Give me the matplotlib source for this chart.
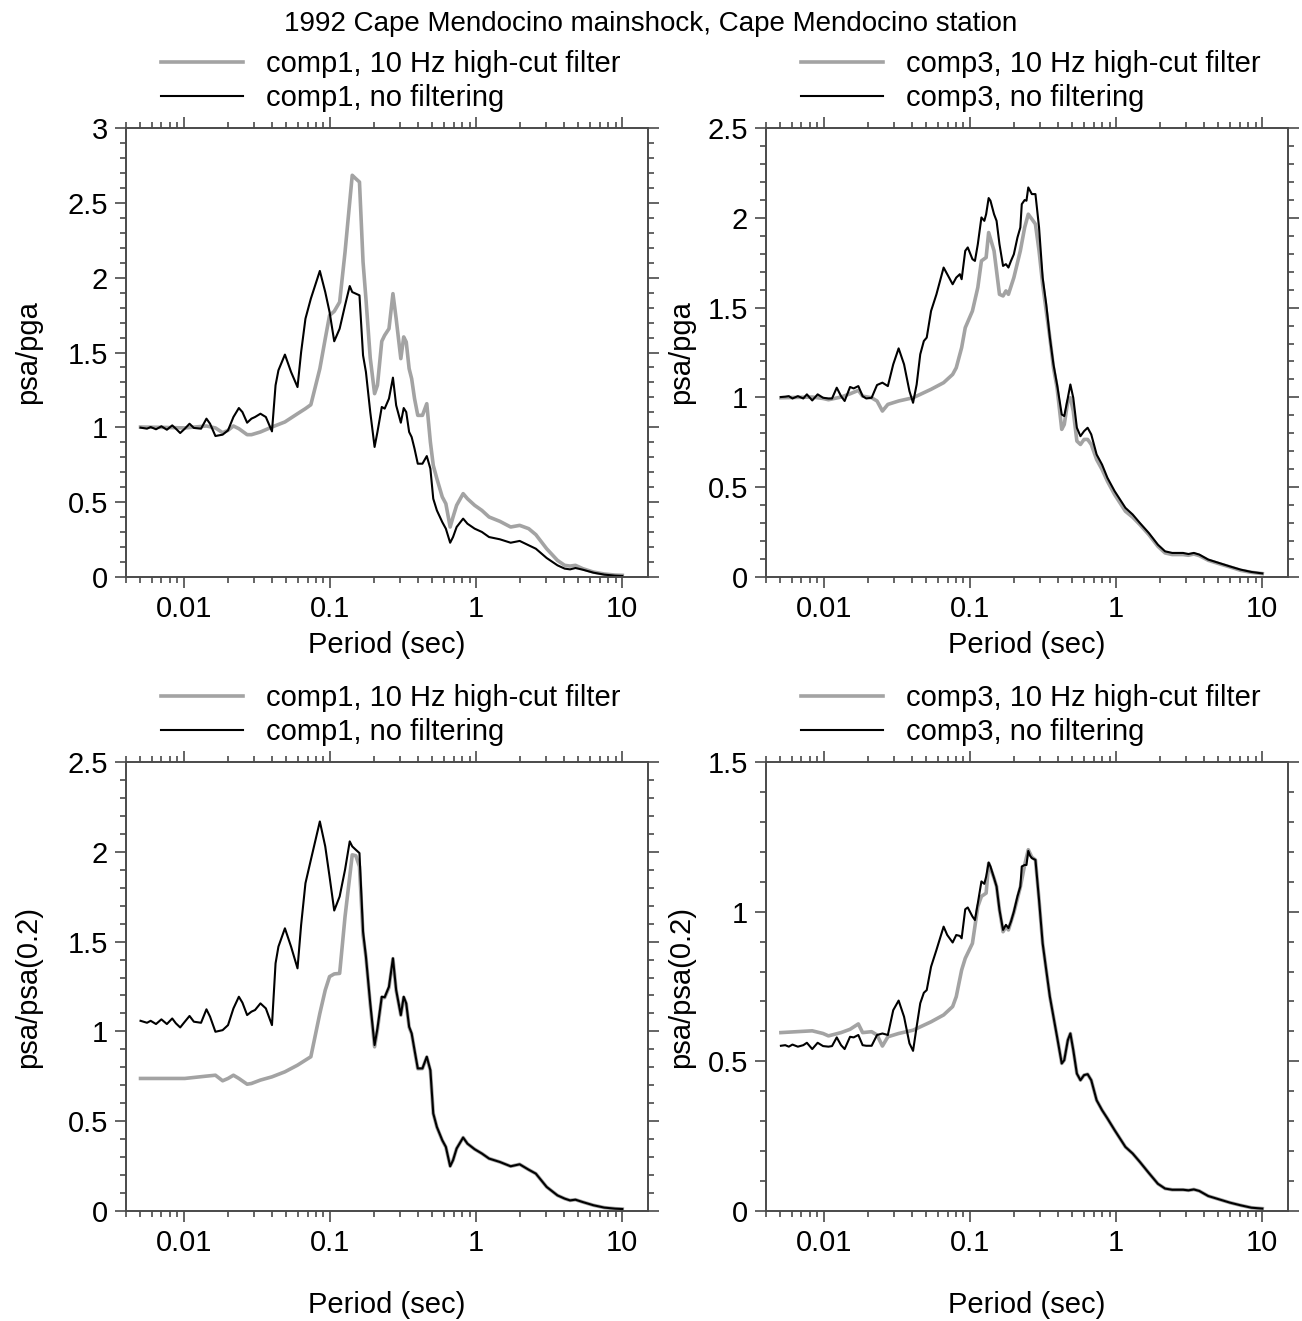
import matplotlib
matplotlib.use("Agg")
import matplotlib.pyplot as plt
from matplotlib.ticker import FixedLocator, FixedFormatter, LogLocator, MultipleLocator, NullFormatter
from matplotlib.lines import Line2D

plt.rcParams['font.family'] = ['Liberation Sans', 'DejaVu Sans']

TITLE = "1992 Cape Mendocino mainshock, Cape Mendocino station"

# comp1, no filtering
period1_nf = [0.00503, 0.00557, 0.00590, 0.00642, 0.00699, 0.00762, 0.00829, 0.00878, 0.00940, 0.01011,
              0.01089, 0.01166, 0.01306, 0.01422, 0.01505, 0.01638, 0.01835, 0.01998, 0.02176, 0.02370,
              0.02507, 0.02700, 0.02891, 0.03059, 0.03331, 0.03627, 0.03995, 0.04227, 0.04423, 0.04899,
              0.05397, 0.05976, 0.06326, 0.06772, 0.07374, 0.08497, 0.09252, 0.09903, 0.1066, 0.1161,
              0.1264, 0.1361, 0.1416, 0.1499, 0.1587, 0.1679, 0.1757, 0.1881, 0.2014, 0.2107,
              0.2256, 0.2361, 0.2527, 0.2690, 0.2830, 0.3046, 0.3188, 0.3317, 0.3472, 0.3613,
              0.3781, 0.3979, 0.4283, 0.4586, 0.4853, 0.5079, 0.5377, 0.5854, 0.6194, 0.6630,
              0.6938, 0.7342, 0.8135, 0.8708, 0.9754, 1.093, 1.224, 1.451, 1.721, 1.983,
              2.286, 2.560, 3.035, 3.599, 4.031, 4.389, 4.779, 5.353, 6.346, 7.523,
              8.920, 10.0]
pga1_nf = [0.998, 0.991, 1.002, 0.987, 1.007, 0.984, 1.013, 0.991, 0.962, 0.991,
           1.024, 0.996, 0.991, 1.058, 1.024, 0.942, 0.951, 0.980, 1.069, 1.129,
           1.102, 1.031, 1.058, 1.069, 1.091, 1.069, 0.973, 1.281, 1.381, 1.486,
           1.370, 1.269, 1.503, 1.726, 1.860, 2.045, 1.904, 1.771, 1.575, 1.659,
           1.815, 1.944, 1.904, 1.893, 1.882, 1.481, 1.370, 1.102, 0.869, 0.969,
           1.136, 1.125, 1.192, 1.332, 1.147, 1.031, 1.129, 1.102, 0.969, 0.935,
           0.857, 0.757, 0.757, 0.808, 0.724, 0.523, 0.445, 0.367, 0.323, 0.229,
           0.267, 0.334, 0.390, 0.356, 0.323, 0.301, 0.267, 0.252, 0.229, 0.241,
           0.212, 0.189, 0.127, 0.078, 0.056, 0.051, 0.060, 0.049, 0.029, 0.016,
           0.009, 0.007]
p02_1_nf = [1.059, 1.048, 1.059, 1.041, 1.067, 1.041, 1.072, 1.045, 1.022, 1.054,
            1.086, 1.054, 1.048, 1.123, 1.082, 0.998, 1.007, 1.035, 1.128, 1.193,
            1.160, 1.091, 1.110, 1.119, 1.156, 1.128, 1.035, 1.379, 1.472, 1.574,
            1.472, 1.351, 1.593, 1.825, 1.955, 2.169, 2.030, 1.862, 1.673, 1.751,
            1.900, 2.058, 2.030, 2.011, 1.993, 1.556, 1.416, 1.156, 0.924, 1.017,
            1.193, 1.190, 1.249, 1.407, 1.230, 1.091, 1.193, 1.156, 1.026, 0.989,
            0.896, 0.794, 0.794, 0.859, 0.784, 0.543, 0.468, 0.394, 0.357, 0.249,
            0.283, 0.348, 0.409, 0.375, 0.344, 0.320, 0.292, 0.273, 0.249, 0.260,
            0.230, 0.208, 0.134, 0.087, 0.069, 0.059, 0.063, 0.050, 0.032, 0.019,
            0.013, 0.011]

# comp1, 10 Hz high-cut filter
period1_hc = [0.00503, 0.00699, 0.01011, 0.01422, 0.01638, 0.01835, 0.01998, 0.02176, 0.02370, 0.02700,
              0.02891, 0.03331, 0.03995, 0.04899, 0.05976, 0.06772, 0.07374, 0.08497, 0.09252, 0.09903,
              0.1066, 0.1161, 0.1264, 0.1361, 0.1416, 0.1499, 0.1587, 0.1679, 0.1757, 0.1881,
              0.2014, 0.2107, 0.2256, 0.2361, 0.2527, 0.2690, 0.2830, 0.3046, 0.3188, 0.3317,
              0.3472, 0.3613, 0.3781, 0.3979, 0.4283, 0.4586, 0.4853, 0.5079, 0.5377, 0.5854,
              0.6194, 0.6630, 0.6938, 0.7342, 0.8135, 0.8708, 0.9754, 1.093, 1.224, 1.451,
              1.721, 1.983, 2.286, 2.560, 3.035, 3.599, 4.031, 4.389, 4.779, 5.353,
              6.346, 7.523, 8.920, 10.0]
pga1_hc = [1.002, 1.000, 0.996, 1.009, 0.996, 0.964, 0.980, 1.009, 0.991, 0.951,
           0.951, 0.969, 1.002, 1.036, 1.091, 1.125, 1.151, 1.392, 1.592, 1.748,
           1.775, 1.837, 2.171, 2.506, 2.684, 2.661, 2.639, 2.105, 1.860, 1.463,
           1.225, 1.281, 1.575, 1.615, 1.659, 1.893, 1.726, 1.459, 1.604, 1.570,
           1.392, 1.325, 1.192, 1.080, 1.080, 1.158, 0.902, 0.746, 0.657, 0.535,
           0.490, 0.334, 0.401, 0.479, 0.557, 0.523, 0.479, 0.445, 0.401, 0.372,
           0.334, 0.345, 0.323, 0.283, 0.189, 0.111, 0.078, 0.073, 0.078, 0.056,
           0.033, 0.020, 0.013, 0.011]
p02_1_hc = [0.738, 0.738, 0.738, 0.751, 0.756, 0.725, 0.738, 0.756, 0.738, 0.706,
            0.710, 0.729, 0.747, 0.775, 0.812, 0.840, 0.859, 1.100, 1.230, 1.305,
            1.320, 1.323, 1.639, 1.862, 1.983, 1.978, 1.918, 1.537, 1.416, 1.150,
            0.914, 1.010, 1.190, 1.188, 1.245, 1.405, 1.228, 1.090, 1.190, 1.155,
            1.024, 0.987, 0.894, 0.792, 0.793, 0.857, 0.782, 0.543, 0.467, 0.393,
            0.356, 0.250, 0.283, 0.348, 0.409, 0.375, 0.344, 0.320, 0.292, 0.273,
            0.249, 0.260, 0.230, 0.208, 0.134, 0.087, 0.069, 0.059, 0.063, 0.050,
            0.032, 0.019, 0.013, 0.011]

# comp3, no filtering
period3_nf = [0.00506, 0.00542, 0.00573, 0.00607, 0.00661, 0.00720, 0.00762, 0.00829, 0.00903, 0.00983,
              0.01071, 0.01133, 0.01220, 0.01306, 0.01382, 0.01505, 0.01593, 0.01715, 0.01835, 0.01943,
              0.02115, 0.02303, 0.02507, 0.02731, 0.02973, 0.03237, 0.03526, 0.03839, 0.04064, 0.04301,
              0.04552, 0.04817, 0.05041, 0.05397, 0.05875, 0.06580, 0.06966, 0.07585, 0.08028, 0.08497,
              0.08741, 0.09252, 0.09627, 0.1036, 0.1078, 0.1128, 0.1194, 0.1250, 0.1286, 0.1338,
              0.1377, 0.1457, 0.1516, 0.1587, 0.1679, 0.1757, 0.1828, 0.1903, 0.1991, 0.2107,
              0.2205, 0.2256, 0.2361, 0.2429, 0.2499, 0.2570, 0.2644, 0.2798, 0.2962, 0.3135,
              0.3317, 0.3512, 0.3717, 0.3934, 0.4236, 0.4407, 0.4664, 0.4853, 0.5079, 0.5377,
              0.5689, 0.6022, 0.6372, 0.6745, 0.7342, 0.7996, 0.8707, 0.9752, 1.156, 1.296,
              1.451, 1.672, 1.928, 2.159, 2.418, 2.868, 3.122, 3.400, 3.702, 4.266,
              5.058, 5.997, 7.110, 8.432, 10.0]
pga3_nf = [1.002, 1.004, 1.007, 0.994, 1.007, 0.994, 1.017, 0.983, 1.017, 0.998,
           0.994, 0.994, 1.054, 1.007, 0.980, 1.058, 1.050, 1.063, 1.007, 0.994,
           0.998, 1.069, 1.082, 1.063, 1.184, 1.273, 1.184, 1.035, 0.970, 1.072,
           1.240, 1.314, 1.333, 1.481, 1.574, 1.723, 1.686, 1.630, 1.667, 1.686,
           1.658, 1.816, 1.835, 1.770, 1.760, 1.853, 2.002, 1.983, 2.020, 2.110,
           2.095, 2.020, 1.983, 1.853, 1.732, 1.742, 1.723, 1.760, 1.797, 1.890,
           1.946, 2.076, 2.099, 2.095, 2.169, 2.151, 2.132, 2.132, 1.946, 1.667,
           1.519, 1.333, 1.184, 1.072, 0.905, 0.896, 0.998, 1.072, 0.998, 0.831,
           0.784, 0.812, 0.831, 0.794, 0.682, 0.626, 0.552, 0.478, 0.385, 0.348,
           0.301, 0.245, 0.180, 0.143, 0.134, 0.134, 0.128, 0.134, 0.125, 0.097,
           0.078, 0.059, 0.041, 0.028, 0.020]
p02_3_nf = [0.552, 0.554, 0.549, 0.556, 0.549, 0.554, 0.562, 0.541, 0.562, 0.551,
            0.549, 0.551, 0.580, 0.554, 0.541, 0.582, 0.580, 0.588, 0.554, 0.552,
            0.552, 0.588, 0.593, 0.588, 0.671, 0.703, 0.649, 0.560, 0.535, 0.616,
            0.694, 0.729, 0.738, 0.816, 0.872, 0.950, 0.922, 0.897, 0.922, 0.919,
            0.911, 1.008, 1.014, 0.984, 0.972, 1.028, 1.101, 1.093, 1.117, 1.164,
            1.151, 1.112, 1.084, 1.006, 0.939, 0.956, 0.945, 0.967, 1.000, 1.051,
            1.084, 1.151, 1.156, 1.156, 1.203, 1.187, 1.179, 1.173, 1.039, 0.894,
            0.805, 0.716, 0.649, 0.582, 0.493, 0.504, 0.571, 0.593, 0.538, 0.459,
            0.437, 0.454, 0.457, 0.437, 0.370, 0.337, 0.309, 0.270, 0.214, 0.192,
            0.164, 0.127, 0.091, 0.075, 0.071, 0.071, 0.069, 0.072, 0.067, 0.050,
            0.039, 0.028, 0.019, 0.011, 0.008]

# comp3, 10 Hz high-cut filter
period3_hc = [0.00506, 0.00829, 0.00983, 0.01071, 0.01306, 0.01505, 0.01715, 0.01835, 0.02115, 0.02303,
              0.02507, 0.02731, 0.03237, 0.04064, 0.05397, 0.06580, 0.07585, 0.08028, 0.08741, 0.09252,
              0.1036, 0.1128, 0.1194, 0.1286, 0.1338, 0.1457, 0.1516, 0.1587, 0.1679, 0.1757,
              0.1828, 0.1991, 0.2205, 0.2361, 0.2499, 0.2644, 0.2798, 0.2962, 0.3135, 0.3317,
              0.3512, 0.3717, 0.3934, 0.4236, 0.4407, 0.4664, 0.4853, 0.5079, 0.5377, 0.5689,
              0.6022, 0.6372, 0.6745, 0.7342, 0.7996, 0.8707, 0.9752, 1.156, 1.296, 1.451,
              1.672, 1.928, 2.159, 2.418, 2.868, 3.122, 3.400, 3.702, 4.266, 5.058,
              5.997, 7.110, 8.432, 10.0]
pga3_hc = [0.998, 1.002, 0.994, 0.987, 1.002, 1.020, 1.039, 1.007, 0.998, 0.980,
           0.924, 0.961, 0.980, 0.998, 1.045, 1.082, 1.128, 1.165, 1.277, 1.388,
           1.481, 1.612, 1.760, 1.779, 1.918, 1.816, 1.704, 1.574, 1.565, 1.593,
           1.574, 1.667, 1.816, 1.946, 2.020, 1.993, 1.965, 1.816, 1.630, 1.481,
           1.333, 1.165, 1.054, 0.822, 0.849, 0.980, 0.998, 0.924, 0.757, 0.738,
           0.766, 0.766, 0.738, 0.654, 0.599, 0.533, 0.459, 0.366, 0.333, 0.292,
           0.236, 0.171, 0.134, 0.125, 0.125, 0.121, 0.128, 0.119, 0.093, 0.074,
           0.056, 0.037, 0.026, 0.019]
p02_3_hc = [0.596, 0.602, 0.593, 0.585, 0.596, 0.607, 0.625, 0.596, 0.599, 0.588,
            0.551, 0.582, 0.593, 0.604, 0.632, 0.655, 0.683, 0.716, 0.805, 0.844,
            0.894, 1.017, 1.051, 1.062, 1.162, 1.112, 1.084, 1.006, 0.933, 0.950,
            0.939, 0.997, 1.082, 1.156, 1.207, 1.182, 1.173, 1.039, 0.894, 0.805,
            0.716, 0.649, 0.582, 0.493, 0.504, 0.571, 0.593, 0.538, 0.459, 0.437,
            0.454, 0.457, 0.437, 0.370, 0.337, 0.309, 0.270, 0.214, 0.192, 0.164,
            0.127, 0.091, 0.075, 0.071, 0.071, 0.069, 0.072, 0.067, 0.050, 0.039,
            0.028, 0.019, 0.011, 0.008]

x_ticks = [0.01, 0.1, 1, 10]
x_ticklabels = ["0.01", "0.1", "1", "10"]

GREY = "#a3a3a3"
SPINE = "#4a4a4a"
FS = 21

fig = plt.figure(figsize=(13.02, 13.21), dpi=100)
fig.text(0.5, 1 - 24 / 1321, TITLE, ha='center', va='center', fontsize=20)

W, H = 1302, 1321
panels = [
    # left px, top px, comp, ylabel, ymax, hc data, nf data, xlabel y, ylabel x
    (126, 128, "comp1", "psa/pga", 3.0, (period1_hc, pga1_hc), (period1_nf, pga1_nf), -0.12, -0.161),
    (766, 128, "comp3", "psa/pga", 2.5, (period3_hc, pga3_hc), (period3_nf, pga3_nf), -0.12, -0.136),
    (126, 762, "comp1", "psa/psa(0.2)", 2.5, (period1_hc, p02_1_hc), (period1_nf, p02_1_nf), -0.178, -0.161),
    (766, 762, "comp3", "psa/psa(0.2)", 1.5, (period3_hc, p02_3_hc), (period3_nf, p02_3_nf), -0.178, -0.136),
]

for left, top, comp, ylab, ymax, hc, nf, xly, ylx in panels:
    ax = fig.add_axes([left / W, 1 - (top + 449) / H, 522 / W, 449 / H])
    ax.plot(hc[0], hc[1], color=GREY, lw=2.6, solid_joinstyle='round')
    ax.plot(nf[0], nf[1], color='black', lw=1.5, solid_joinstyle='round')
    ax.set_xscale('log')
    ax.set_xlim(0.004, 15)
    ax.set_ylim(0, ymax)
    ax.xaxis.set_major_locator(FixedLocator(x_ticks))
    ax.xaxis.set_major_formatter(FixedFormatter(x_ticklabels))
    ax.xaxis.set_minor_locator(LogLocator(base=10, subs=[2, 3, 4, 5, 6, 7, 8, 9], numticks=20))
    ax.xaxis.set_minor_formatter(NullFormatter())
    ax.yaxis.set_major_locator(MultipleLocator(0.5))
    ax.yaxis.set_minor_locator(MultipleLocator(0.1))
    ax.yaxis.set_major_formatter(plt.FuncFormatter(lambda v, p: "%g" % v))
    ax.tick_params(which='both', direction='out', top=True, right=True,
                   colors=SPINE, labelcolor='black', labelsize=FS, width=1.2)
    ax.tick_params(which='major', length=8, pad=5)
    ax.tick_params(which='minor', length=4)
    for s in ax.spines.values():
        s.set_color(SPINE)
        s.set_linewidth(1.4)
    ax.set_xlabel("Period (sec)", fontsize=FS)
    ax.xaxis.set_label_coords(0.5, xly)
    ax.set_ylabel(ylab, fontsize=FS)
    ax.yaxis.set_label_coords(ylx, 0.5)
    handles = [Line2D([], [], color=GREY, lw=2.6), Line2D([], [], color='black', lw=1.5)]
    labels = [comp + ", 10 Hz high-cut filter", comp + ", no filtering"]
    ax.legend(handles, labels, loc='upper left', bbox_to_anchor=(0.068, 1.174),
              frameon=False, fontsize=FS, handlelength=2.8, handletextpad=0.8,
              labelspacing=0.22, borderpad=0, borderaxespad=0)

fig.savefig("out.png", dpi=100)
